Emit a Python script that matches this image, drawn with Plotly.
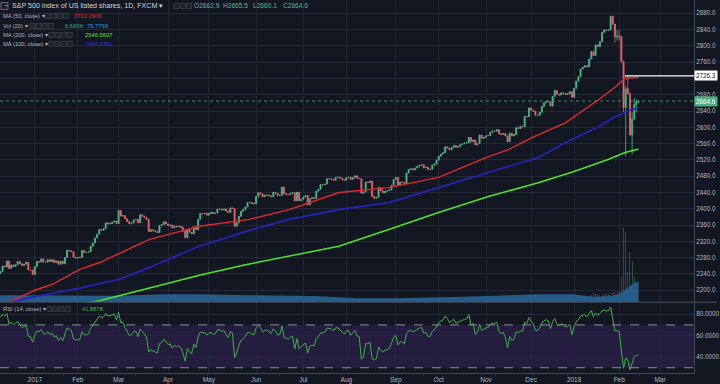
import numpy as np
import plotly.graph_objects as go

# ---------------- DATA (FXCM SPX500 daily) ----------------
first_index = -42          # trading-day index of the first bar (Jan 3 2017 = 0)
first_open = 2126.2
close_2016_11 = [2111.7, 2097.9, 2088.7, 2085.2, 2131.5, 2139.6, 2163.3, 2167.5, 2164.5, 2164.2, 2180.4,
                 2176.9, 2187.1, 2181.9, 2198.2, 2202.9, 2204.7, 2213.4, 2201.7, 2204.7, 2198.8]
close_2016_12 = [2191.1, 2192.0, 2204.7, 2212.2, 2241.4, 2246.2, 2259.5, 2257.0, 2271.7, 2253.3, 2262.0,
                 2258.1, 2262.5, 2270.8, 2265.2, 2261.0, 2263.8, 2268.9, 2249.9, 2249.3, 2238.8]
close_2017_01 = [2257.8, 2270.8, 2269.0, 2277.0, 2268.9, 2268.9, 2275.3, 2270.4, 2274.6, 2267.9, 2271.9,
                 2263.7, 2271.3, 2265.2, 2280.1, 2298.4, 2296.7, 2294.7, 2280.9, 2278.9]
close_2017_02 = [2279.6, 2280.9, 2297.4, 2292.6, 2293.1, 2294.7, 2307.9, 2316.1, 2328.3, 2337.6, 2349.3,
                 2347.2, 2351.2, 2365.4, 2362.8, 2363.8, 2367.3, 2369.8, 2363.6]
close_2017_03 = [2396.0, 2381.9, 2383.1, 2375.3, 2368.4, 2363.0, 2364.9, 2372.6, 2373.5, 2365.5, 2385.3,
                 2381.4, 2378.3, 2373.5, 2344.0, 2348.5, 2346.0, 2344.0, 2341.6, 2358.6, 2361.1, 2368.1, 2362.7]
close_2017_04 = [2358.8, 2360.2, 2353.0, 2357.5, 2355.5, 2357.2, 2353.8, 2344.9, 2329.0, 2349.0, 2342.2,
                 2338.2, 2355.8, 2348.7, 2374.2, 2388.6, 2387.5, 2388.8, 2384.2]
close_2017_05 = [2388.3, 2391.2, 2388.1, 2389.5, 2399.3, 2399.4, 2396.9, 2399.6, 2394.4, 2390.9, 2402.3,
                 2400.7, 2357.0, 2365.7, 2381.7, 2394.0, 2398.4, 2404.4, 2415.1, 2415.8, 2412.9, 2411.8]
close_2017_06 = [2430.1, 2439.1, 2436.1, 2429.3, 2433.1, 2433.8, 2431.8, 2429.4, 2440.4, 2437.9, 2432.5,
                 2433.2, 2453.5, 2437.0, 2435.6, 2434.5, 2438.3, 2439.1, 2419.4, 2440.7, 2419.7, 2423.4]
close_2017_07 = [2429.0, 2432.5, 2409.8, 2425.2, 2427.4, 2425.5, 2443.3, 2447.8, 2459.3, 2459.1, 2460.6,
                 2473.8, 2473.5, 2472.5, 2469.9, 2477.1, 2477.8, 2475.4, 2472.1, 2470.3]
close_2017_08 = [2476.4, 2477.6, 2472.2, 2476.8, 2480.9, 2474.9, 2474.0, 2438.2, 2441.3, 2465.8, 2464.6,
                 2468.1, 2430.0, 2425.6, 2428.4, 2452.5, 2444.0, 2439.0, 2443.1, 2444.2, 2446.3, 2457.6, 2471.7]
close_2017_09 = [2476.6, 2457.9, 2465.5, 2465.1, 2461.4, 2488.1, 2496.5, 2498.4, 2495.6, 2500.2, 2503.9,
                 2506.7, 2508.2, 2500.6, 2502.2, 2496.7, 2496.8, 2507.0, 2510.1, 2519.4]
close_2017_10 = [2529.1, 2534.6, 2537.7, 2552.1, 2549.3, 2544.7, 2550.6, 2555.2, 2550.9, 2553.2, 2557.6,
                 2559.4, 2561.3, 2562.1, 2575.2, 2565.0, 2569.1, 2557.2, 2560.4, 2581.1, 2572.8, 2575.3]
close_2017_11 = [2579.4, 2579.9, 2587.8, 2591.1, 2590.6, 2594.4, 2584.6, 2582.3, 2584.8, 2578.9, 2564.6,
                 2585.6, 2578.9, 2582.1, 2599.0, 2597.1, 2602.4, 2601.4, 2627.0, 2626.1, 2647.6]
close_2017_12 = [2642.2, 2639.4, 2629.6, 2629.3, 2637.0, 2651.5, 2660.0, 2664.1, 2662.9, 2652.0, 2675.8,
                 2690.2, 2681.5, 2679.3, 2684.6, 2683.3, 2680.5, 2682.6, 2687.5, 2673.6]
close_2018_01 = [2695.8, 2713.1, 2724.0, 2743.2, 2747.7, 2751.3, 2748.2, 2767.6, 2786.2, 2776.4, 2802.6,
                 2798.0, 2810.3, 2833.0, 2839.1, 2837.5, 2839.3, 2872.9, 2853.5, 2822.4, 2823.8]
close_2018_02 = [2822.0, 2762.1, 2648.9, 2695.1, 2681.7, 2581.0, 2619.6, 2656.0, 2662.9, 2664.6]

# visible wicks (index: (high, low))
wicks = {268: (2873.0, 2840.0), 269: (2871.0, 2851.0), 270: (2838.0, 2808.0), 271: (2839.0, 2813.0),
         272: (2839.0, 2813.0), 273: (2826.0, 2759.0), 274: (2763.0, 2638.0), 275: (2701.0, 2529.0),
         276: (2727.0, 2681.0), 277: (2686.0, 2580.0), 278: (2638.0, 2533.0), 279: (2672.0, 2622.0),
         280: (2668.0, 2637.0), 281: (2665.5, 2660.1)}

# volume (K) for bars visible above the volume-MA area (Jan 2 2018 onward)
vol_start_index = 251
volume_2018 = [22, 25, 24, 26, 20, 23, 25, 24, 27, 33, 30, 28, 26, 25, 30, 32, 28, 27, 35, 38, 36,
               40, 90, 274, 253, 110, 180, 150, 90, 60, 6.683]
# Vol MA(20) area, read points (index, K)
volma_idx = [-17, 10, 40, 60, 75, 100, 130, 150, 170, 200, 225, 235, 250, 260, 268, 272, 275, 278, 281]
volma_val = [25, 25, 23, 29, 29, 25, 22, 14, 14, 20, 25, 29, 29, 20, 22, 30, 45, 65, 75.776]

# moving averages, read points (index, price)
ma50_idx = [-13, 0, 8.4, 20.9, 30.2, 53.4, 76.6, 99.8, 118.3, 141.5, 164.7, 187.9, 211.1, 220.4, 231.1,
            246.9, 262.2, 270.1, 274.7, 281]
ma50_val = [2168, 2200, 2215, 2251, 2268, 2325, 2357, 2374, 2398, 2440, 2452, 2477, 2528, 2545, 2574,
            2611, 2667, 2699, 2721, 2722.2]
ma100_idx = [-13, -1, 20.9, 39.4, 53.4, 76.6, 99.8, 118.3, 141.5, 164.7, 187.9, 211.1, 234.3, 246.9,
             262.2, 270.1, 277.6, 281]
ma100_val = [2168, 2183, 2205, 2227, 2256, 2308, 2347, 2374, 2398, 2415, 2452, 2489, 2526, 2562,
             2601, 2626, 2643, 2647.8]
ma200_idx = [12, 27.8, 53.4, 76.6, 97.5, 118.3, 141.5, 164.7, 187.9, 211.1, 234.3, 250.6, 266.8, 274.7, 281]
ma200_val = [2160, 2171, 2205.6, 2237, 2262, 2283, 2308, 2349, 2391, 2430, 2464, 2491, 2521, 2538, 2546.6]

tick_idx = [0, 20, 39, 62, 81, 103, 125, 145, 168, 188, 210, 231, 251, 272, 291]
tick_text = ['2017', 'Feb', 'Mar', 'Apr', 'May', 'Jun', 'Jul', 'Aug', 'Sep', 'Oct', 'Nov', 'Dec',
             '2018', 'Feb', 'Mar']
price_ticks = list(range(2200, 2881, 40))
hidden_price_tick = 2720   # label hidden behind the 2726.3 marker
hline_level = 2726.3
last_price = 2664.6

# ---------------- BUILD ----------------
closes = (close_2016_11 + close_2016_12 + close_2017_01 + close_2017_02 + close_2017_03 + close_2017_04 +
          close_2017_05 + close_2017_06 + close_2017_07 + close_2017_08 + close_2017_09 + close_2017_10 +
          close_2017_11 + close_2017_12 + close_2018_01 + close_2018_02)
idx = list(range(first_index, first_index + len(closes)))
opens = [first_open] + closes[:-1]
highs, lows = [], []
for i, o, c in zip(idx, opens, closes):
    if i in wicks:
        highs.append(wicks[i][0]); lows.append(wicks[i][1])
    else:
        highs.append(max(o, c)); lows.append(min(o, c))

# RSI(14), Wilder smoothing
c = np.array(closes)
d = np.diff(c)
g = np.clip(d, 0, None); l = np.clip(-d, 0, None)
n = 14
ag = np.full(len(c), np.nan); al = np.full(len(c), np.nan)
ag[n] = g[:n].mean(); al[n] = l[:n].mean()
for i in range(n + 1, len(c)):
    ag[i] = (ag[i - 1] * (n - 1) + g[i - 1]) / n
    al[i] = (al[i - 1] * (n - 1) + l[i - 1]) / n
rsi = 100 - 100 / (1 + ag / al)

BG = '#131722'
GRID = '#242836'
AXIS = '#434651'
TXT = '#b2b5be'
UP = '#52b788'
DOWN = '#e8636f'
FONT = 'Liberation Sans'

W, H = 697.0, 374.0
def px(x): return x / W
def py(y): return (H - y) / H

fig = go.Figure()

vol_x = list(range(vol_start_index, vol_start_index + len(volume_2018)))
vol_col = []
for i in vol_x:
    k = i - first_index
    vol_col.append('rgba(82,183,136,0.35)' if closes[k] >= opens[k] else 'rgba(232,99,111,0.35)')
fig.add_trace(go.Bar(x=vol_x, y=volume_2018, marker=dict(color=vol_col, line=dict(width=0)),
                     width=0.45, xaxis='x', yaxis='y'))
fig.add_trace(go.Scatter(x=volma_idx, y=volma_val, mode='lines', fill='tozeroy', line=dict(width=0, color='#2a6494'),
                         fillcolor='rgba(40,96,142,0.95)', xaxis='x', yaxis='y'))

fig.add_trace(go.Candlestick(x=idx, open=opens, high=highs, low=lows, close=closes,
                             increasing=dict(line=dict(color=UP, width=0.8), fillcolor=UP),
                             decreasing=dict(line=dict(color=DOWN, width=0.8), fillcolor=DOWN),
                             whiskerwidth=0, xaxis='x', yaxis='y3'))
fig.add_trace(go.Scatter(x=ma200_idx, y=ma200_val, mode='lines', line=dict(color='#4fe32b', width=1.5),
                         xaxis='x', yaxis='y3'))
fig.add_trace(go.Scatter(x=ma100_idx, y=ma100_val, mode='lines', line=dict(color='#2424b8', width=1.7),
                         xaxis='x', yaxis='y3'))
fig.add_trace(go.Scatter(x=ma50_idx, y=ma50_val, mode='lines', line=dict(color='#e0282e', width=1.4),
                         xaxis='x', yaxis='y3'))
fig.add_trace(go.Scatter(x=idx, y=rsi, mode='lines', line=dict(color='#3fae4a', width=1),
                         xaxis='x', yaxis='y2'))

shapes = [
    dict(type='rect', xref='paper', yref='y2', x0=0, x1=1, y0=30, y1=70, fillcolor='rgba(120,60,200,0.18)',
         line=dict(width=0), layer='below'),
    dict(type='line', xref='paper', yref='y2', x0=0, x1=1, y0=70, y1=70, line=dict(color='#8a8d96', width=1, dash='dash')),
    dict(type='line', xref='paper', yref='y2', x0=0, x1=1, y0=30, y1=30, line=dict(color='#8a8d96', width=1, dash='dash')),
    dict(type='line', xref='paper', yref='y3', x0=0, x1=1, y0=hidden_price_tick, y1=hidden_price_tick,
         line=dict(color=GRID, width=1), layer='below'),
    dict(type='line', xref='paper', yref='paper', x0=0, x1=720 / W, y0=py(303), y1=py(303), line=dict(color='#4a4f5c', width=1)),
    dict(type='line', xref='x', yref='y3', x0=-16.2, x1=306.8, y0=last_price, y1=last_price,
         line=dict(color='rgba(82,183,136,0.7)', width=1, dash='dot')),
    dict(type='line', xref='x', yref='y3', x0=274.6, x1=306.8, y0=hline_level, y1=hline_level,
         line=dict(color='#ffffff', width=1.3)),
]

# legend buttons
def boxes(x0, yc, nbox, sz=5.0, gap=1.2):
    out = []
    for k in range(nbox):
        xa = x0 + k * (sz + gap)
        out.append(dict(type='rect', xref='paper', yref='paper', x0=px(xa), x1=px(xa + sz),
                        y0=py(yc + sz / 2), y1=py(yc - sz / 2), fillcolor='#1c202b',
                        line=dict(color='#434651', width=0.7)))
    return out
shapes.append(dict(type='rect', xref='paper', yref='paper', x0=px(1), x1=px(8), y0=py(9.5), y1=py(2.5),
                   fillcolor='#1c202b', line=dict(color='#787b86', width=0.8)))
shapes += boxes(175, 6, 3)
shapes += boxes(45, 16, 4)
shapes += boxes(30, 26, 4)
shapes += boxes(49, 35, 4)
shapes += boxes(49, 44, 4)
shapes += boxes(47, 310, 4)

ann = []
def label(x, y, text, color=TXT, size=5.8):
    ann.append(dict(xref='paper', yref='paper', x=px(x), y=py(y), text=text, showarrow=False,
                    xanchor='left', yanchor='middle', font=dict(family=FONT, size=size, color=color)))
label(2.3, 5.8, '−', '#b2b5be', 7)
label(10, 6, 'S&P 500 index of US listed shares, 1D, FXCM ▾', '#d1d4dc', 7.1)
for xx, letter, val in [(193, 'O', '2662.9'), (222, 'H', '2665.5'), (252, 'L', '2660.1'), (282, 'C', '2664.6')]:
    label(xx, 6, letter + "<span style='color:#4fb98f'>" + val + "</span>", '#9598a1', 6.6)
label(1, 16, 'MA (50, close) ▾')
label(72, 16, '2722.1908', '#e0282e')
label(1, 26, 'Vol (20) ▾')
label(63, 26, '6.683K', '#26a69a')
label(85, 26, '75.776K', '#2196f3')
label(1, 35, 'MA (200, close) ▾')
label(83, 35, '2546.5607', '#4fe32b')
label(1, 44, 'MA (100, close) ▾')
label(83, 44, '2647.8391', '#3030d0')
label(1, 310, 'RSI (14, close) ▾')
label(80, 310, '41.8878', '#3fae4a')

# price label boxes on the right axis
ann.append(dict(xref='paper', yref='y3', x=1.0, y=hline_level, text='2726.3', showarrow=False, xanchor='left',
                yanchor='middle', bgcolor='#ffffff', font=dict(family=FONT, size=6.3, color='#131722'), borderpad=1))
ann.append(dict(xref='paper', yref='y3', x=1.0, y=last_price, text='2664.6', showarrow=False, xanchor='left',
                yanchor='middle', bgcolor='#4caf82', font=dict(family=FONT, size=6.3, color='#ffffff'), borderpad=1))

fig.update_layout(
    width=720, height=384, margin=dict(l=0, r=23, t=0, b=10), autosize=False,
    paper_bgcolor=BG, plot_bgcolor=BG, showlegend=False, bargap=0,
    xaxis=dict(range=[-16.2, 306.8], tickvals=tick_idx, ticktext=tick_text, showgrid=True, gridcolor=GRID,
               gridwidth=1, zeroline=False, showline=True, linecolor=AXIS, ticks='', anchor='y2',
               tickfont=dict(family=FONT, size=6.5, color=TXT), rangeslider=dict(visible=False)),
    yaxis=dict(domain=[(H - 303) / H, 1], range=[0, 1094], visible=False, showgrid=False),
    yaxis3=dict(overlaying='y', side='right', anchor='x', range=[2170.6, 2912.6],
                tickvals=[t for t in price_ticks if t != hidden_price_tick],
                tickformat='.1f', showgrid=True, gridcolor=GRID, zeroline=False, showline=True, linecolor=AXIS,
                ticks='', tickfont=dict(family=FONT, size=6.3, color=TXT)),
    yaxis2=dict(domain=[0, (H - 303) / H], range=[25.1, 91.2], side='right', anchor='x', tickvals=[40, 60, 80],
                tickformat='.4f', showgrid=True, gridcolor=GRID, zeroline=False, showline=True, linecolor=AXIS,
                ticks='', tickfont=dict(family=FONT, size=6.3, color=TXT)),
    shapes=shapes, annotations=ann,
)

fig.write_html('out.html', config={'displayModeBar': False},
               post_script="document.body.style.margin='0';document.body.style.background='#131722';")
